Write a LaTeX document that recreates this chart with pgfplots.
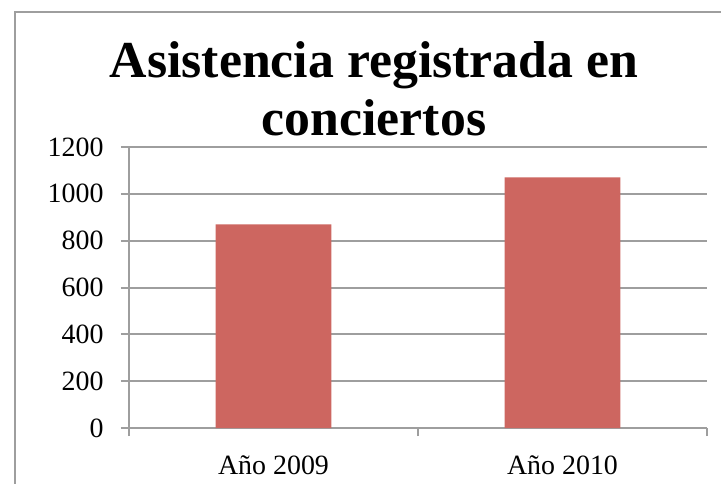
\documentclass[border=0pt]{standalone}
\usepackage{fontspec}
\setmainfont{Liberation Serif}
\usepackage{pgfplots}
\pgfplotsset{compat=1.18}
\definecolor{barred}{RGB}{205,102,96}
\definecolor{linegray}{RGB}{158,158,158}

\begin{document}
\begin{tikzpicture}
\path[use as bounding box] (0,0) rectangle (721bp,-484bp);
% chart frame, cut by the page edges
\draw[linegray, line width=2bp] (15bp,-490bp) -- (15bp,-12bp) -- (730bp,-12bp);
\begin{axis}[at={(129bp,-428bp)}, anchor=south west, scale only axis,
  width=578bp, height=281bp,
  xmin=-0.5, xmax=1.5, ymin=0, ymax=1200,
  axis x line=bottom, axis y line=left,
  axis line style={linegray, line width=2bp, -},
  xtick={-0.5,0.5,1.5}, xticklabels={},
  extra x ticks={0,1}, extra x tick labels={Año 2009, Año 2010},
  extra x tick style={major tick length=0pt, grid=none,
    tick label style={yshift=-24bp}},
  ytick={0,200,...,1200}, ymajorgrids,
  grid style={linegray, line width=2bp},
  tick align=outside, major tick length=8bp,
  tick style={linegray, line width=2bp},
  ticklabel style={font=\fontsize{28}{30}\selectfont, text=black},
  yticklabel style={xshift=-14bp},
  /pgf/number format/assume math mode=true,
  /pgf/number format/1000 sep={},
  clip=false]
\addplot[ybar, bar width=0.4, fill=barred, draw=none] coordinates {(0,870) (1,1070)};
\end{axis}
\node[anchor=base, font=\fontsize{52}{58}\selectfont\bfseries] at (374bp,-77bp) {Asistencia registrada en};
\node[anchor=base, font=\fontsize{52}{58}\selectfont\bfseries] at (374bp,-135bp) {conciertos};
\end{tikzpicture}
\end{document}
